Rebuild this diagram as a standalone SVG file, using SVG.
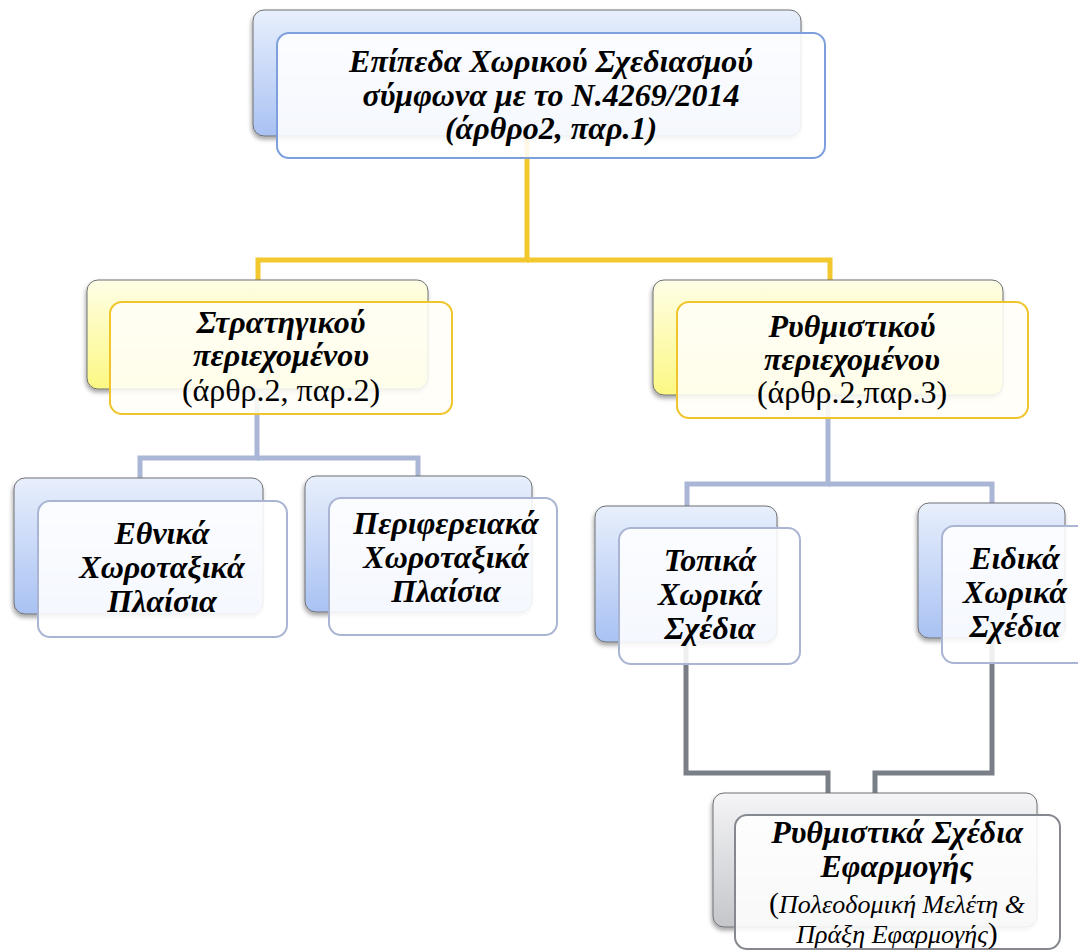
<svg xmlns="http://www.w3.org/2000/svg" width="1078" height="952" viewBox="0 0 1078 952">
<defs>
<linearGradient id="gBlue" x1="0" y1="0" x2="0" y2="1"><stop offset="0" stop-color="#e8effc"/><stop offset="1" stop-color="#a9c2f3"/></linearGradient>
<linearGradient id="gYellow" x1="0" y1="0" x2="0" y2="1"><stop offset="0" stop-color="#fefee6"/><stop offset="1" stop-color="#fcf883"/></linearGradient>
<linearGradient id="gGray" x1="0" y1="0" x2="0" y2="1"><stop offset="0" stop-color="#f5f5f7"/><stop offset="1" stop-color="#c4c6ca"/></linearGradient>
<filter id="sh" x="-10%" y="-10%" width="125%" height="130%"><feDropShadow dx="-1" dy="3" stdDeviation="2" flood-color="#000" flood-opacity="0.35"/></filter>
</defs>
<style>
.back{stroke:#6f7072;stroke-width:1;filter:url(#sh)}
.fb{fill:#ffffff;fill-opacity:0.88;stroke:#7d9fdd;stroke-width:2}
.fs{fill:#ffffff;fill-opacity:0.88;stroke:#a9b5d3;stroke-width:2}
.fy{fill:#fffef8;fill-opacity:0.88;stroke:#f0c52c;stroke-width:2}
.fg{fill:#ffffff;fill-opacity:0.88;stroke:#85898f;stroke-width:2}
.t{font-family:"Liberation Serif","Times New Roman",serif;font-weight:bold;font-style:italic;font-size:32px;fill:#000;text-anchor:middle}
.r{font-family:"Liberation Serif","Times New Roman",serif;font-weight:normal;font-style:normal;font-size:32px;fill:#000;text-anchor:middle}
.i{font-family:"Liberation Serif","Times New Roman",serif;font-weight:normal;font-style:italic;font-size:26px;fill:#000;text-anchor:middle}
.cy{fill:none;stroke:#f2c82e;stroke-width:5}
.cb{fill:none;stroke:#aab6d6;stroke-width:5}
.cg{fill:none;stroke:#7a7e86;stroke-width:5}
</style>
<g id="connectors">
<polyline class="cy" points="527,136 527,260 258,260 258,280"/>
<polyline class="cy" points="527,260 830,260 830,280"/>
<polyline class="cb" points="257,389 257,458 140,458 140,478"/>
<polyline class="cb" points="257,458 418,458 418,476"/>
<polyline class="cb" points="828,395 828,484 687,484 687,506"/>
<polyline class="cb" points="828,484 992,484 992,503"/>
<polyline class="cg" points="686,642 686,773 828,773 828,793"/>
<polyline class="cg" points="992,638 992,773 875,773 875,793"/>
</g>
<g id="n-top">
<rect class="back" x="253" y="10" width="548" height="126" rx="11" fill="url(#gBlue)"/>
<rect class="fb" x="277" y="33" width="548" height="125" rx="12"/>
<text class="t" x="551" y="72">Επίπεδα Χωρικού Σχεδιασμού</text>
<text class="t" x="551" y="106">σύμφωνα με το Ν.4269/2014</text>
<text class="t" x="551" y="139">(άρθρο2, παρ.1)</text>
</g>
<g id="n-strat">
<rect class="back" x="87" y="280" width="341" height="109" rx="11" fill="url(#gYellow)"/>
<rect class="fy" x="110" y="302" width="342" height="112" rx="12"/>
<text class="t" x="281" y="333">Στρατηγικού</text>
<text class="t" x="281" y="366">περιεχομένου</text>
<text class="r" x="281" y="401">(άρθρ.2, παρ.2)</text>
</g>
<g id="n-rythm">
<rect class="back" x="653" y="280" width="350" height="115" rx="11" fill="url(#gYellow)"/>
<rect class="fy" x="677" y="302" width="351" height="116" rx="12"/>
<text class="t" x="852" y="337">Ρυθμιστικού</text>
<text class="t" x="852" y="370">περιεχομένου</text>
<text class="r" x="852" y="403">(άρθρ.2,παρ.3)</text>
</g>
<g id="n-ethnika">
<rect class="back" x="14" y="478" width="249" height="136" rx="11" fill="url(#gBlue)"/>
<rect class="fs" x="38" y="501" width="249" height="136" rx="12"/>
<text class="t" x="162" y="544">Εθνικά</text>
<text class="t" x="162" y="578">Χωροταξικά</text>
<text class="t" x="162" y="612">Πλαίσια</text>
</g>
<g id="n-perif">
<rect class="back" x="305" y="476" width="227" height="136" rx="11" fill="url(#gBlue)"/>
<rect class="fs" x="329" y="498" width="228" height="137" rx="12"/>
<text class="t" x="446" y="534">Περιφερειακά</text>
<text class="t" x="446" y="568">Χωροταξικά</text>
<text class="t" x="446" y="602">Πλαίσια</text>
</g>
<g id="n-topika">
<rect class="back" x="595" y="506" width="182" height="136" rx="11" fill="url(#gBlue)"/>
<rect class="fs" x="619" y="528" width="181" height="136" rx="12"/>
<text class="t" x="710" y="571">Τοπικά</text>
<text class="t" x="710" y="605">Χωρικά</text>
<text class="t" x="710" y="639">Σχέδια</text>
</g>
<g id="n-eidika">
<rect class="back" x="918" y="503" width="147" height="135" rx="11" fill="url(#gBlue)"/>
<rect class="fs" x="942" y="526" width="147" height="137" rx="12"/>
<text class="t" x="1015" y="569">Ειδικά</text>
<text class="t" x="1015" y="603">Χωρικά</text>
<text class="t" x="1015" y="637">Σχέδια</text>
</g>
<g id="n-rse">
<rect class="back" x="713" y="793" width="324" height="134" rx="11" fill="url(#gGray)"/>
<rect class="fg" x="735" y="815" width="325" height="134" rx="12"/>
<text class="t" x="897" y="843">Ρυθμιστικά Σχέδια</text>
<text class="t" x="897" y="877">Εφαρμογής</text>
<text class="i" x="897" y="913"><tspan font-style="normal" font-size="30">(</tspan>Πολεοδομική Μελέτη &amp;</text>
<text class="i" x="897" y="943">Πράξη Εφαρμογής<tspan font-style="normal" font-size="30">)</tspan></text>
</g>
</svg>
